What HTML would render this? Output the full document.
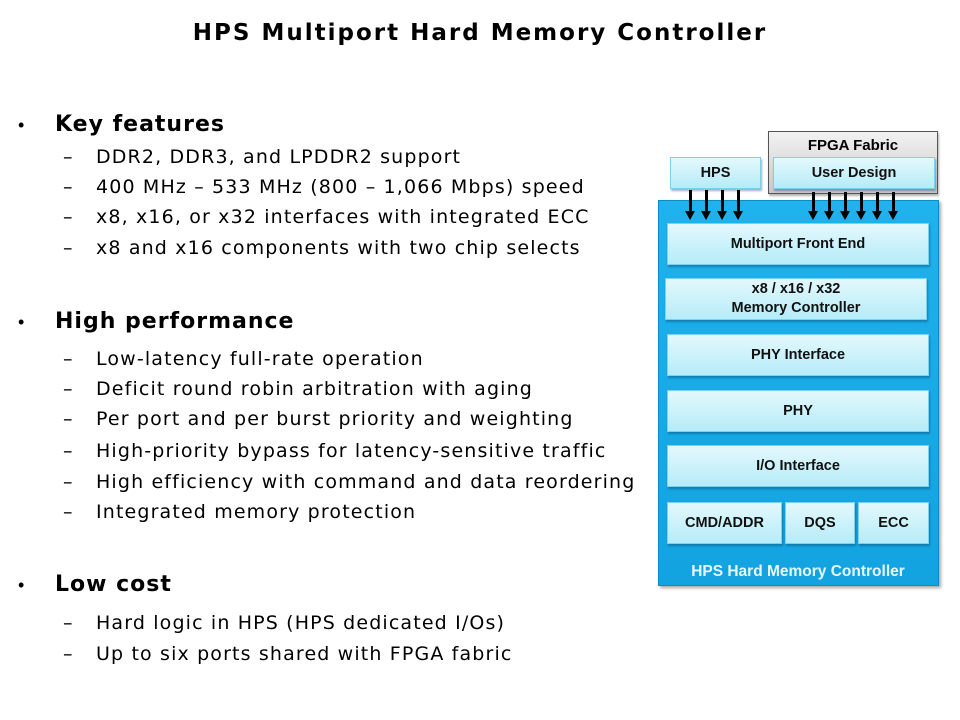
<!DOCTYPE html>
<html><head><style>
body{margin:0;width:960px;height:720px;background:#fff;position:relative;font-family:"Liberation Sans",sans-serif;overflow:hidden}
.t{position:absolute;white-space:nowrap;color:#000}
.d{font-family:"DejaVu Sans",sans-serif}
.title{left:0;width:960px;text-align:center;top:20px;font-size:23px;font-weight:bold;letter-spacing:2px}
.b{font-size:22px;font-weight:bold;letter-spacing:1px}
.s{font-size:19px;letter-spacing:1.15px}
.bx{position:absolute;background:linear-gradient(#e4f8fd,#b5ecf8);border:1px solid #7fd0ec;box-shadow:1px 2px 2px rgba(0,60,100,.4);font-weight:bold;font-size:14.5px;display:flex;align-items:center;justify-content:center;text-align:center;line-height:19px;color:#111}
.ar{position:absolute;width:3px;background:#000;height:22px}
.ar:after{content:"";position:absolute;left:-4px;bottom:-8px;border-left:5.5px solid transparent;border-right:5.5px solid transparent;border-top:9px solid #000}
</style></head><body>
<div class="t d title">HPS Multiport Hard Memory Controller</div>

<div class="t" style="left:18px;top:115px;font-size:18px;">•</div>
<div class="t d b" style="left:55px;top:112px">Key features</div>
<div class="t d s" style="left:63px;top:146px">–</div><div class="t d s" style="left:96px;top:146px">DDR2, DDR3, and LPDDR2 support</div>
<div class="t d s" style="left:63px;top:176px">–</div><div class="t d s" style="left:96px;top:176px">400 MHz – 533 MHz (800 – 1,066 Mbps) speed</div>
<div class="t d s" style="left:63px;top:206px">–</div><div class="t d s" style="left:96px;top:206px">x8, x16, or x32 interfaces with integrated ECC</div>
<div class="t d s" style="left:63px;top:237px">–</div><div class="t d s" style="left:96px;top:237px">x8 and x16 components with two chip selects</div>

<div class="t" style="left:18px;top:312px;font-size:18px;">•</div>
<div class="t d b" style="left:55px;top:309px">High performance</div>
<div class="t d s" style="left:63px;top:348px">–</div><div class="t d s" style="left:96px;top:348px">Low-latency full-rate operation</div>
<div class="t d s" style="left:63px;top:378px">–</div><div class="t d s" style="left:96px;top:378px">Deficit round robin arbitration with aging</div>
<div class="t d s" style="left:63px;top:408px">–</div><div class="t d s" style="left:96px;top:408px">Per port and per burst priority and weighting</div>
<div class="t d s" style="left:63px;top:440px">–</div><div class="t d s" style="left:96px;top:440px">High-priority bypass for latency-sensitive traffic</div>
<div class="t d s" style="left:63px;top:471px">–</div><div class="t d s" style="left:96px;top:471px">High efficiency with command and data reordering</div>
<div class="t d s" style="left:63px;top:501px">–</div><div class="t d s" style="left:96px;top:501px">Integrated memory protection</div>

<div class="t" style="left:18px;top:575px;font-size:18px;">•</div>
<div class="t d b" style="left:55px;top:572px">Low cost</div>
<div class="t d s" style="left:63px;top:612px">–</div><div class="t d s" style="left:96px;top:612px">Hard logic in HPS (HPS dedicated I/Os)</div>
<div class="t d s" style="left:63px;top:643px">–</div><div class="t d s" style="left:96px;top:643px">Up to six ports shared with FPGA fabric</div>

<!-- diagram -->
<div style="position:absolute;left:768px;top:131px;width:168px;height:61px;background:linear-gradient(#f2f2f2,#c8c8c8);border:1px solid #555;box-shadow:1px 2px 2px rgba(0,0,0,.3)"></div>
<div class="t" style="left:768px;width:170px;text-align:center;top:137px;font-weight:bold;font-size:15px">FPGA Fabric</div>
<div style="position:absolute;left:658px;top:200px;width:279px;height:384px;background:linear-gradient(#1fb2ec,#12a3e0);border:1px solid #0d8cc4;box-shadow:2px 2px 3px rgba(0,0,0,.35)"></div>
<div class="bx" style="left:670px;top:157px;width:89px;height:30px">HPS</div>
<div class="bx" style="left:773px;top:157px;width:160px;height:30px">User Design</div>

<div class="ar" style="left:689px;top:190px"></div>
<div class="ar" style="left:705px;top:190px"></div>
<div class="ar" style="left:721px;top:190px"></div>
<div class="ar" style="left:737px;top:190px"></div>
<div class="ar" style="left:812px;top:192px;height:20px"></div>
<div class="ar" style="left:828px;top:192px;height:20px"></div>
<div class="ar" style="left:844px;top:192px;height:20px"></div>
<div class="ar" style="left:860px;top:192px;height:20px"></div>
<div class="ar" style="left:876px;top:192px;height:20px"></div>
<div class="ar" style="left:892px;top:192px;height:20px"></div>

<div class="bx" style="left:667px;top:223px;width:260px;height:40px">Multiport Front End</div>
<div class="bx" style="left:665px;top:278px;width:260px;height:40px">x8 / x16 / x32<br>Memory Controller</div>
<div class="bx" style="left:667px;top:334px;width:260px;height:40px">PHY Interface</div>
<div class="bx" style="left:667px;top:390px;width:260px;height:40px">PHY</div>
<div class="bx" style="left:667px;top:445px;width:260px;height:40px">I/O Interface</div>
<div class="bx" style="left:667px;top:502px;width:113px;height:40px">CMD/ADDR</div>
<div class="bx" style="left:785px;top:502px;width:68px;height:40px">DQS</div>
<div class="bx" style="left:858px;top:502px;width:69px;height:40px">ECC</div>
<div class="t" style="left:658px;width:280px;text-align:center;top:563px;color:#e8f8ff;font-weight:bold;font-size:15.5px">HPS Hard Memory Controller</div>
</body></html>
